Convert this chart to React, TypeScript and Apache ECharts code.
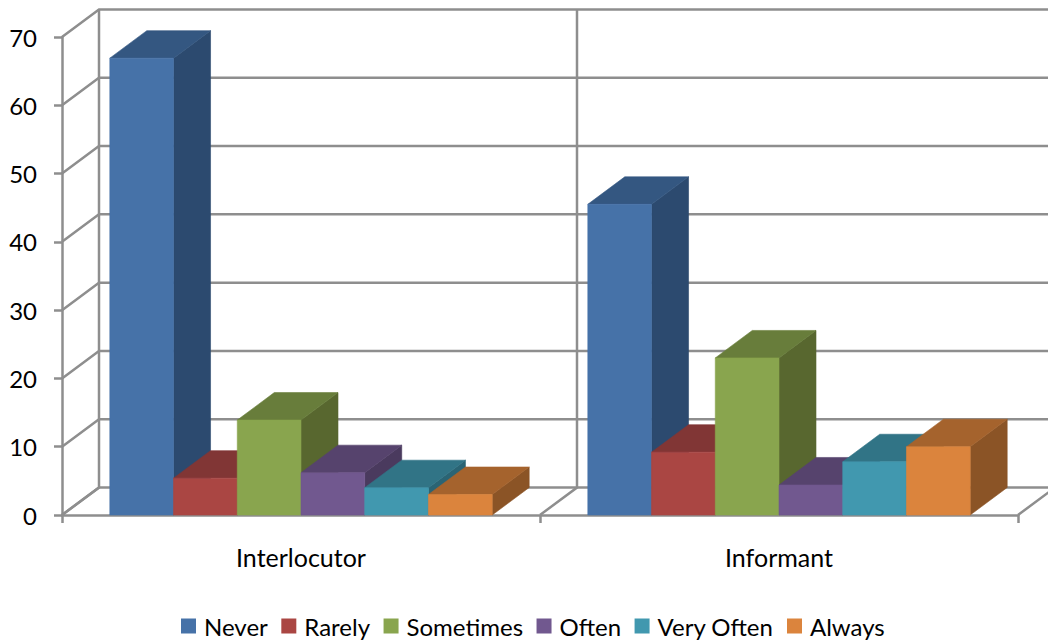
import React, { useEffect, useRef } from "react";
import * as echarts from "echarts";

const categories = ["Interlocutor", "Informant"];
const yTicks = [0, 10, 20, 30, 40, 50, 60, 70];
const boundaries = [0, 1, 2];

const never = [66.9, 45.5];
const rarely = [5.4, 9.2];
const sometimes = [13.9, 23];
const often = [6.2, 4.4];
const veryOften = [4, 7.8];
const always = [3, 10];

const seriesNames = ["Never", "Rarely", "Sometimes", "Often", "Very Often", "Always"];
const seriesValues = [never, rarely, sometimes, often, veryOften, always];
const frontColors = ["#4672A8", "#AA4643", "#89A54E", "#71588F", "#4198AF", "#DB843D"];
const topColors = ["#345781", "#813635", "#687D3B", "#56436D", "#317486", "#A5632D"];
const sideColors = ["#2C4A6F", "#6F2E2D", "#58672F", "#4A3A5E", "#2A6474", "#8B5426"];

const DEPTH_X = 37;
const DEPTH_Y = 27.5;
const WALL = "#8E8E8E";
const WALL_WIDTH = 2.5;
const FONT = "Lato";

const wallLine = (points: number[][]) => ({
  type: "polyline",
  shape: { points },
  style: { stroke: WALL, lineWidth: WALL_WIDTH, fill: "none" },
  silent: true,
});

// Horizontal gridlines: a diagonal up the side wall, then across the back wall.
const renderGridLine = (_: any, api: any) => {
  const [cx, y] = api.coord([0, api.value(1)]);
  const band = api.size([1, 0])[0];
  const left = cx - band / 2;
  return wallLine([
    [left, y],
    [left + DEPTH_X, y - DEPTH_Y],
    [left + 2 * band + DEPTH_X, y - DEPTH_Y],
  ]);
};

// Category dividers: a floor diagonal and the upright on the back wall.
const renderDivider = (_: any, api: any) => {
  const i = api.value(0);
  const band = api.size([1, 0])[0];
  const [cx, y0] = api.coord([0, 0]);
  const [, yTop] = api.coord([0, 70]);
  const x = cx - band / 2 + i * band;
  return wallLine([
    [x, y0],
    [x + DEPTH_X, y0 - DEPTH_Y],
    [x + DEPTH_X, yTop - DEPTH_Y],
  ]);
};

const renderBar = (seriesIndex: number) => (_: any, api: any) => {
  const [cx, yTop] = api.coord([api.value(0), api.value(1)]);
  const [, y0] = api.coord([api.value(0), 0]);
  const band = api.size([1, 0])[0];
  const barW = band / 7.5;
  const x1 = cx - band / 2 + band / 10 + seriesIndex * barW;
  const x2 = x1 + barW;
  // A hairline stroke in the face colour closes the seams between adjoining faces.
  const polygon = (points: number[][], fill: string) => ({
    type: "polygon",
    shape: { points },
    style: { fill, stroke: fill, lineWidth: 0.6 },
  });
  return {
    type: "group",
    children: [
      polygon(
        [
          [x2, yTop],
          [x2 + DEPTH_X, yTop - DEPTH_Y],
          [x2 + DEPTH_X, y0 - DEPTH_Y],
          [x2, y0],
        ],
        sideColors[seriesIndex]
      ),
      polygon(
        [
          [x1, yTop],
          [x1 + DEPTH_X, yTop - DEPTH_Y],
          [x2 + DEPTH_X, yTop - DEPTH_Y],
          [x2, yTop],
        ],
        topColors[seriesIndex]
      ),
      polygon(
        [
          [x1, yTop],
          [x2, yTop],
          [x2, y0],
          [x1, y0],
        ],
        frontColors[seriesIndex]
      ),
    ],
  };
};

export default function App() {
  const ref = useRef<HTMLDivElement>(null);

  useEffect(() => {
    const chart = echarts.init(ref.current!, undefined, { renderer: "svg" });
    chart.setOption({
      animation: false,
      backgroundColor: "#FFFFFF",
      textStyle: { fontFamily: FONT },
      grid: { left: 62, right: 30, top: 37, bottom: 129 },
      legend: {
        data: seriesNames,
        left: 176,
        top: 609,
        icon: "rect",
        itemWidth: 15,
        itemHeight: 15,
        itemGap: 13.5,
        textStyle: { fontFamily: FONT, fontSize: 24, color: "#000", padding: [0, 0, 0, 3] },
      },
      xAxis: {
        type: "category",
        data: categories,
        axisLine: { lineStyle: { color: WALL, width: WALL_WIDTH } },
        axisTick: { show: true, alignWithLabel: false, length: 8, lineStyle: { color: WALL, width: WALL_WIDTH } },
        axisLabel: { fontFamily: FONT, fontSize: 25, color: "#000", margin: 29 },
      },
      yAxis: {
        type: "value",
        min: 0,
        max: 70,
        interval: 10,
        splitLine: { show: false },
        axisLine: { show: true, lineStyle: { color: WALL, width: WALL_WIDTH } },
        axisTick: { show: true, length: 8, lineStyle: { color: WALL, width: WALL_WIDTH } },
        axisLabel: { fontFamily: FONT, fontSize: 24, color: "#000", margin: 25 },
      },
      series: [
        {
          type: "custom",
          name: "grid",
          silent: true,
          clip: false,
          data: yTicks.map((t) => [0, t]),
          renderItem: renderGridLine,
          encode: { x: 0, y: 1 },
        },
        {
          type: "custom",
          name: "dividers",
          silent: true,
          clip: false,
          data: boundaries.map((b) => [b, 0]),
          renderItem: renderDivider,
        },
        ...seriesNames.map((name, s) => ({
          type: "custom",
          name,
          clip: false,
          itemStyle: { color: frontColors[s] },
          data: seriesValues[s].map((v, i) => [i, v]),
          renderItem: renderBar(s),
          encode: { x: 0, y: 1 },
        })),
      ],
    });
    return () => chart.dispose();
  }, []);

  return (
    <div
      ref={ref}
      style={{ position: "fixed", left: 0, top: 0, width: 1048, height: 644 }}
    />
  );
}
